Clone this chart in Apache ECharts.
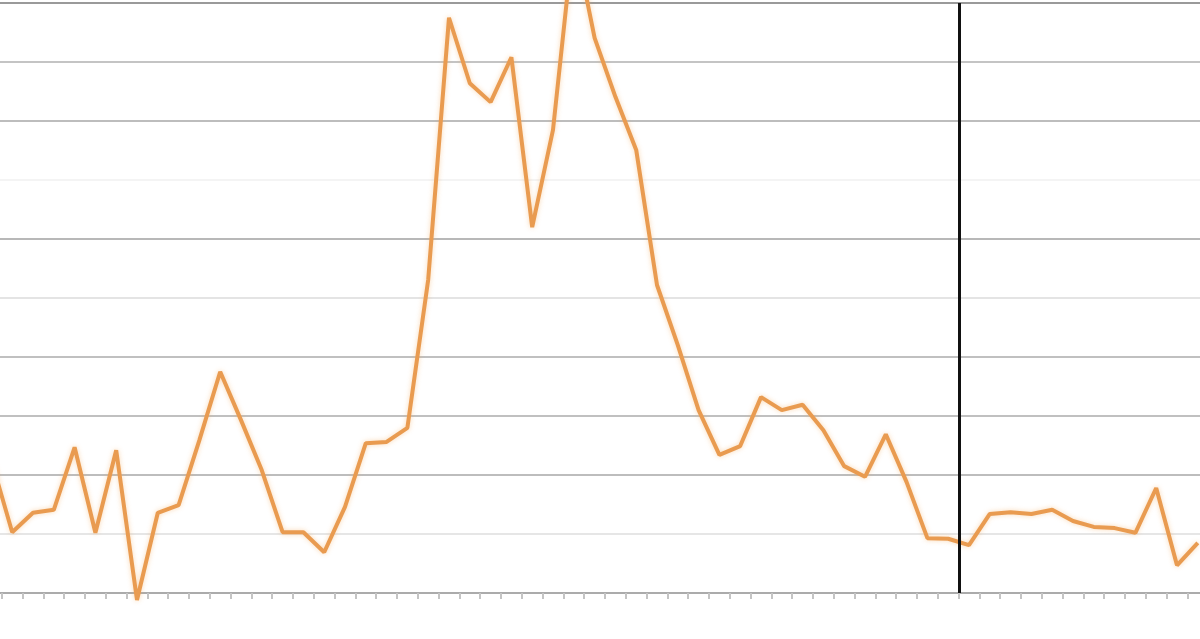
<!DOCTYPE html>
<html>
<head>
<meta charset="utf-8">
<script src="https://cdn.jsdelivr.net/npm/echarts@6/dist/echarts.min.js"></script>
<style>
html,body{margin:0;padding:0;background:#ffffff;width:1200px;height:639px;overflow:hidden;position:relative;}
#chart{position:absolute;left:-19px;top:0;width:1248px;height:639px;}
</style>
</head>
<body>
<div id="chart"></div>
<script>
// Series values, one per period, starting one period left of the visible area
const seriesValues = [
  22.5, 10.3, 13.6, 14.1, 24.7, 10.2, 24.2, -1.2, 13.6, 14.9,
  25.9, 37.5, 29.3, 20.8, 10.3, 10.3, 6.9, 14.6, 25.4, 25.6,
  28.0, 53.1, 97.5, 86.4, 83.2, 90.8, 62.0, 78.5, 111.5, 94.1,
  84.1, 75.1, 52.2, 42.0, 31.0, 23.4, 24.9, 33.2, 31.0, 31.9,
  27.6, 21.5, 19.7, 26.9, 18.8, 9.3, 9.2, 8.1, 13.4, 13.7,
  13.4, 14.1, 12.2, 11.2, 11.0, 10.2, 17.8, 4.7, 8.5
];
const firstPeriod = -1;
const eventPeriod = 45.55;
const yTicks = [0, 10, 20, 30, 40, 50, 60, 70, 80, 90, 100];

const seriesData = seriesValues.map((v, i) => [firstPeriod + i, v]);

const gridColors = ['#aaaaaa', '#e6e6e6', '#bdbdbd', '#c0c0c0', '#c0c0c0', '#e4e4e4',
                    '#b8b8b8', '#f4f4f4', '#bdbdbd', '#c4c4c4', '#9a9a9a'];

const chart = echarts.init(document.getElementById('chart'), null, {renderer: 'canvas'});
chart.setOption({
  backgroundColor: '#ffffff',
  animation: false,
  grid: {left: 0, right: 0, top: 3, bottom: 46, containLabel: false},
  xAxis: {
    type: 'value',
    min: -1.5,
    max: 58.5,
    interval: 1,
    axisLine: {show: true, onZero: false, lineStyle: {color: '#ababab', width: 2}},
    axisTick: {show: true, length: 6, lineStyle: {color: '#c4c4c4', width: 2}},
    axisLabel: {show: false},
    splitLine: {show: false}
  },
  yAxis: {
    type: 'value',
    min: yTicks[0],
    max: yTicks[yTicks.length - 1],
    interval: yTicks[1] - yTicks[0],
    axisLine: {show: false},
    axisTick: {show: false},
    axisLabel: {show: false},
    splitLine: {show: true, lineStyle: {color: gridColors, width: 2}}
  },
  series: [{
    type: 'line',
    data: seriesData,
    clip: false,
    symbol: 'none',
    smooth: false,
    lineStyle: {color: '#e99b50', width: 4, shadowColor: 'rgba(245,170,90,0.45)', shadowBlur: 5},
    markLine: {
      silent: true,
      symbol: ['none', 'none'],
      label: {show: false},
      lineStyle: {color: '#111111', width: 3, type: 'solid'},
      data: [{xAxis: eventPeriod}]
    }
  }]
});
</script>
</body>
</html>
